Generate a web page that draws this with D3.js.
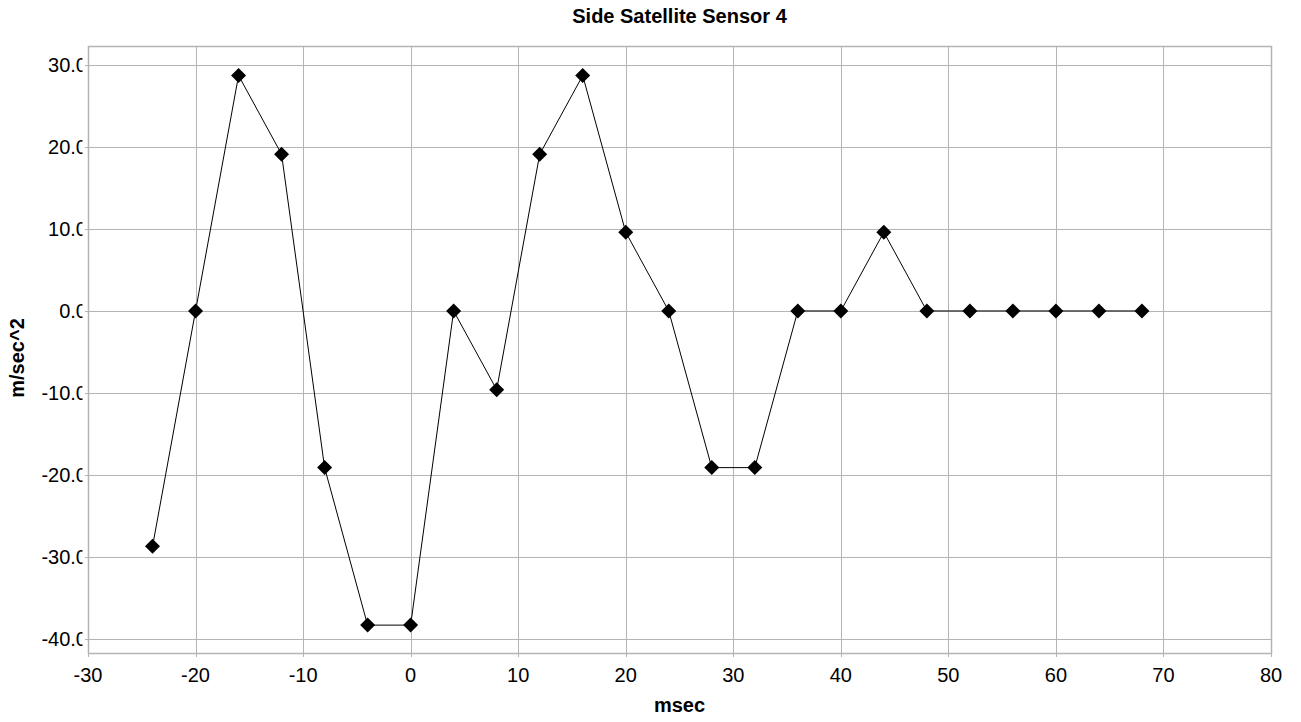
<!DOCTYPE html>
<html><head><meta charset="utf-8">
<script src="https://cdn.jsdelivr.net/npm/d3@7"></script>
<style>body{margin:0;background:#fff;}svg{display:block;font-family:"Liberation Sans",Arial,sans-serif;}</style>
</head><body><svg id="c" width="1301" height="722"></svg>
<script>
const title = "Side Satellite Sensor 4";
const xLabel = "msec";
const yLabel = "m/sec^2";
const times = [-24,-20,-16,-12,-8,-4,0,4,8,12,16,20,24,28,32,36,40,44,48,52,56,60,64,68];
const values = [-28.7,0,28.7,19.1,-19.1,-38.3,-38.3,0,-9.6,19.1,28.7,9.6,0,-19.1,-19.1,0,0,9.6,0,0,0,0,0,0];
const xTicks = [-30,-20,-10,0,10,20,30,40,50,60,70,80];
const yTicks = [30,20,10,0,-10,-20,-30,-40];

const L=88, R=1271, T=46, B=653;
const svg = d3.select("#c");
const x = d3.scaleLinear().domain([-30,80]).range([L,R]);
const y = d3.scaleLinear().domain([-41.7,32.3]).range([B,T]);
const grid = "#b4b4b4";

// gridlines
svg.append("g").selectAll("line").data(xTicks).join("line")
  .attr("x1",d=>Math.round(x(d))+0.5).attr("x2",d=>Math.round(x(d))+0.5)
  .attr("y1",T).attr("y2",B+4).attr("stroke",grid).attr("stroke-width",1);
svg.append("g").selectAll("line").data(yTicks).join("line")
  .attr("y1",d=>Math.round(y(d))+0.5).attr("y2",d=>Math.round(y(d))+0.5)
  .attr("x1",L-3).attr("x2",R).attr("stroke",grid).attr("stroke-width",1);
svg.append("rect").attr("x",L+0.5).attr("y",T+0.5).attr("width",R-L).attr("height",B-T)
  .attr("fill","none").attr("stroke",grid).attr("stroke-width",1.5);

// tick labels
svg.append("defs").append("clipPath").attr("id","yclip").append("rect")
  .attr("x",0).attr("y",0).attr("width",82.5).attr("height",722);
svg.append("g").attr("clip-path","url(#yclip)").selectAll("text").data(yTicks).join("text")
  .attr("x",87).attr("y",d=>y(d)+7).attr("text-anchor","end")
  .attr("font-size",20).attr("fill","#000").text(d=>d.toFixed(1));
svg.append("g").selectAll("text").data(xTicks).join("text")
  .attr("x",d=>x(d)).attr("y",682).attr("text-anchor","middle")
  .attr("font-size",20).attr("fill","#000").text(d=>d);

// line + markers
const pts = times.map((t,i)=>[t,values[i]]);
svg.append("path").datum(pts).attr("fill","none").attr("stroke","#000").attr("stroke-width",1)
  .attr("d",d3.line().x(d=>x(d[0])).y(d=>y(d[1])));
svg.append("g").selectAll("path").data(pts).join("path")
  .attr("transform",d=>`translate(${x(d[0])},${y(d[1])})`)
  .attr("d","M0,-7.5L7.5,0L0,7.5L-7.5,0Z").attr("fill","#000");

// titles
svg.append("text").attr("x",(L+R)/2).attr("y",23).attr("text-anchor","middle")
  .attr("font-size",20).attr("font-weight","bold").text(title);
svg.append("text").attr("x",(L+R)/2).attr("y",712).attr("text-anchor","middle")
  .attr("font-size",20).attr("font-weight","bold").text(xLabel);
svg.append("text").attr("transform",`translate(24,358) rotate(-90)`).attr("text-anchor","middle")
  .attr("font-size",20).attr("font-weight","bold").text(yLabel);
</script></body></html>
